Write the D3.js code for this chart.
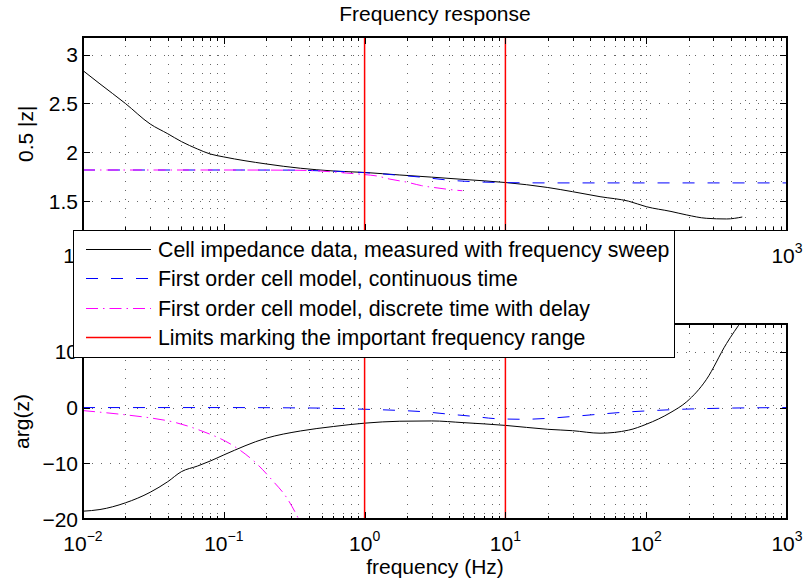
<!DOCTYPE html>
<html>
<head>
<meta charset="utf-8">
<script src="https://cdn.jsdelivr.net/npm/d3@7"></script>
<style>
  body { margin: 0; background: #fff; }
  svg text { font-family: "Liberation Sans", Arial, Helvetica, sans-serif; fill: #000; }
</style>
</head>
<body>
<svg id="chart" width="804" height="588"></svg>
<script>
// ---- data ----------------------------------------------------------------
// Measured cell impedance (frequency sweep)
const measuredFreq  = [0.01, 0.0132, 0.02, 0.03, 0.04, 0.05, 0.065, 0.08, 0.1, 0.2, 0.35, 0.6, 1, 1.78, 3, 5, 10, 20, 30, 47, 75, 100, 150, 194, 267, 372, 481];
const measuredMag   = [2.836, 2.70, 2.50, 2.29, 2.19, 2.11, 2.034, 1.983, 1.953, 1.881, 1.837, 1.809, 1.794, 1.768, 1.746, 1.723, 1.691, 1.64, 1.597, 1.546, 1.50, 1.444, 1.395, 1.359, 1.325, 1.318, 1.338];
const measuredPhase = [-18.6, -18.3, -17.1, -15.2, -13.3, -11.5, -10.5, -9.6, -8.5, -5.5, -4.2, -3.4, -2.8, -2.45, -2.4, -2.7, -3.2, -3.9, -4.15, -4.6, -4.05, -3.0, -0.85, 1.05, 5.0, 11.5, 15.7];

// First order model, continuous time
const contFreq  = [0.01, 0.1, 0.3, 0.5, 0.74, 1, 1.67, 2.6, 3.85, 5.8, 8.7, 13.5, 20, 28.5, 51, 73, 120, 180, 300, 1000];
const contMag   = [1.819, 1.819, 1.818, 1.81, 1.802, 1.792, 1.768, 1.744, 1.717, 1.70, 1.692, 1.688, 1.687, 1.687, 1.687, 1.687, 1.687, 1.687, 1.687, 1.687];
const contPhase = [0, 0, -0.05, -0.1, -0.2, -0.3, -0.49, -0.74, -1.15, -1.56, -2.0, -2.1, -1.93, -1.64, -1.1, -0.8, -0.5, -0.3, -0.15, 0];

// First order model, discrete time with delay
const discMagFreq   = [0.01, 0.1, 0.3, 0.44, 0.74, 1.0, 1.22, 1.51, 2.02, 2.54, 3.27, 4.27, 4.94];
const discMag       = [1.819, 1.819, 1.817, 1.812, 1.788, 1.772, 1.758, 1.726, 1.693, 1.659, 1.636, 1.615, 1.607];
const discPhaseFreq = [0.01, 0.02, 0.03, 0.044, 0.068, 0.116, 0.17, 0.22, 0.28, 0.32, 0.34];
const discPhase     = [-0.54, -1.3, -1.85, -2.6, -4.1, -6.8, -10.0, -13.0, -16.2, -18.7, -20.0];

// Frequency range limits (Hz)
const limitFreqs = [1, 10];

// Axis ticks
const xTickValues    = [0.01, 0.1, 1, 10, 100, 1000];
const xTickExponents = ["\u22122", "\u22121", "0", "1", "2", "3"];
const magTicks       = [1.5, 2, 2.5, 3];
const magTickLabels  = ["1.5", "2", "2.5", "3"];
const phaseTicks     = [-20, -10, 0, 10];
const phaseTickLabels = ["\u221220", "\u221210", "0", "10"];

const legendLabels = [
  "Cell impedance data, measured with frequency sweep",
  "First order cell model, continuous time",
  "First order cell model, discrete time with delay",
  "Limits marking the important frequency range"
];

// ---- styles --------------------------------------------------------------
const styles = {
  measured: { stroke: "#000000", dash: null, width: 1 },
  cont:     { stroke: "#0000ff", dash: "12,13", width: 1 },
  disc:     { stroke: "#ff00ff", dash: "12,5,1.5,5", width: 1 },
  limit:    { stroke: "#ff0000", dash: null, width: 1.5 }
};

const FONT = 21;
const LEGEND_FONT = 21.3;
const svg = d3.select("#chart");

const x = d3.scaleLog().domain([1e-2, 1e3]).range([83, 787]);
const minorTicks = x.ticks().filter(v => !xTickValues.some(t => Math.abs(Math.log10(v) - Math.log10(t)) < 1e-9));

const zip = (xs, ys) => xs.map((f, i) => [f, ys[i]]);

const panels = [
  {
    id: "mag", top: 37, bottom: 230.5, domain: [1.2, 3.18],
    ticks: magTicks, tickLabels: magTickLabels,
    // the legend sits over the middle of this panel's frequency labels
    xLabelsShown: [0.01, 1000],
    ylabel: "0.5 |z|", ylabelX: 33,
    series: [
      { data: zip(measuredFreq, measuredMag), style: styles.measured },
      { data: zip(contFreq, contMag), style: styles.cont },
      { data: zip(discMagFreq, discMag), style: styles.disc }
    ]
  },
  {
    id: "phase", top: 324, bottom: 519, domain: [-20, 15],
    ticks: phaseTicks, tickLabels: phaseTickLabels,
    xLabelsShown: xTickValues,
    ylabel: "arg(z)", ylabelX: 29,
    series: [
      { data: zip(measuredFreq, measuredPhase), style: styles.measured },
      { data: zip(contFreq, contPhase), style: styles.cont },
      { data: zip(discPhaseFreq, discPhase), style: styles.disc }
    ]
  }
];

const [x0, x1] = x.range();

panels.forEach(p => {
  const y = d3.scaleLinear().domain(p.domain).range([p.bottom, p.top]);
  const g = svg.append("g").attr("class", "panel-" + p.id);

  g.append("rect").attr("x", x0).attr("y", p.top)
    .attr("width", x1 - x0).attr("height", p.bottom - p.top).attr("fill", "#fff");

  // dotted grid: every decade and sub-decade vertically, major ticks horizontally
  const grid = g.append("g").attr("stroke", "#000").attr("stroke-opacity", 0.6)
    .attr("stroke-width", 1).attr("stroke-dasharray", "1,8").attr("shape-rendering", "crispEdges");
  x.ticks().filter(v => v > 1e-2 && v < 1e3 && !limitFreqs.includes(v)).forEach(v => {
    const px = Math.round(x(v)) + 0.5;
    grid.append("line").attr("x1", px).attr("x2", px).attr("y1", p.top).attr("y2", p.bottom);
  });
  p.ticks.forEach(v => {
    const py = Math.round(y(v)) + 0.5;
    if (py > p.top + 1 && py < p.bottom - 1)
      grid.append("line").attr("x1", x0).attr("x2", x1).attr("y1", py).attr("y2", py);
  });

  // curves, clipped to the plot box
  const clipId = "clip-" + p.id;
  svg.append("clipPath").attr("id", clipId).append("rect")
    .attr("x", x0).attr("y", p.top).attr("width", x1 - x0).attr("height", p.bottom - p.top);
  const plot = g.append("g").attr("clip-path", `url(#${clipId})`);
  const line = d3.line().x(d => x(d[0])).y(d => y(d[1])).curve(d3.curveMonotoneX);

  p.series.forEach(s => {
    plot.append("path").datum(s.data).attr("d", line)
      .attr("fill", "none").attr("stroke", s.style.stroke).attr("stroke-width", s.style.width)
      .attr("stroke-dasharray", s.style.dash);
  });
  limitFreqs.forEach(f => {
    const px = x(f);
    plot.append("line").attr("x1", px).attr("x2", px).attr("y1", p.top).attr("y2", p.bottom)
      .attr("stroke", styles.limit.stroke).attr("stroke-width", styles.limit.width);
  });

  // box and ticks (pointing inward)
  const ax = g.append("g").attr("stroke", "#000").attr("stroke-width", 1.2).attr("shape-rendering", "crispEdges");
  ax.append("rect").attr("x", x0).attr("y", p.top).attr("width", x1 - x0).attr("height", p.bottom - p.top)
    .attr("fill", "none");
  const tickX = (v, len) => {
    const px = Math.round(x(v)) + 0.5;
    ax.append("line").attr("x1", px).attr("x2", px).attr("y1", p.bottom).attr("y2", p.bottom - len);
    ax.append("line").attr("x1", px).attr("x2", px).attr("y1", p.top).attr("y2", p.top + len);
  };
  xTickValues.forEach(v => tickX(v, 7));
  minorTicks.forEach(v => tickX(v, 3.5));
  p.ticks.forEach(v => {
    const py = Math.round(y(v)) + 0.5;
    if (py < p.top || py > p.bottom) return;
    ax.append("line").attr("x1", x0).attr("x2", x0 + 7).attr("y1", py).attr("y2", py);
    ax.append("line").attr("x1", x1).attr("x2", x1 - 7).attr("y1", py).attr("y2", py);
  });

  // tick labels
  p.ticks.forEach((v, i) => {
    g.append("text").attr("x", x0 - 5).attr("y", y(v)).attr("dy", "0.36em")
      .attr("text-anchor", "end").attr("font-size", FONT).text(p.tickLabels[i]);
  });
  xTickValues.forEach((v, i) => {
    if (!p.xLabelsShown.includes(v)) return;
    const t = g.append("text").attr("x", x(v)).attr("y", p.bottom + 32)
      .attr("text-anchor", "middle").attr("font-size", FONT);
    t.append("tspan").text("10");
    t.append("tspan").attr("dy", -10).attr("font-size", 14).text(xTickExponents[i]);
  });

  g.append("text").attr("transform", `translate(${p.ylabelX},${(p.top + p.bottom) / 2}) rotate(-90)`)
    .attr("text-anchor", "middle").attr("font-size", FONT).text(p.ylabel);
});

// title and x label
svg.append("text").attr("x", 435).attr("y", 21).attr("text-anchor", "middle")
  .attr("font-size", FONT).text("Frequency response");
svg.append("text").attr("x", 435).attr("y", 574).attr("text-anchor", "middle")
  .attr("font-size", FONT).text("frequency (Hz)");

// legend
const lg = svg.append("g").attr("class", "legend");
lg.append("rect").attr("x", 73.5).attr("y", 230.5).attr("width", 601).attr("height", 127)
  .attr("fill", "#fff").attr("stroke", "#000").attr("stroke-width", 1.2).attr("shape-rendering", "crispEdges");
const legendStyles = [styles.measured, styles.cont, styles.disc, styles.limit];
legendLabels.forEach((label, i) => {
  const cy = Math.round(249 + i * 29.3) + 0.5;
  lg.append("line").attr("x1", 86).attr("x2", 151).attr("y1", cy).attr("y2", cy)
    .attr("stroke", legendStyles[i].stroke).attr("stroke-width", legendStyles[i].width)
    .attr("stroke-dasharray", legendStyles[i].dash);
  lg.append("text").attr("x", 158).attr("y", cy).attr("dy", "0.36em")
    .attr("font-size", LEGEND_FONT).text(label);
});
</script>
</body>
</html>
